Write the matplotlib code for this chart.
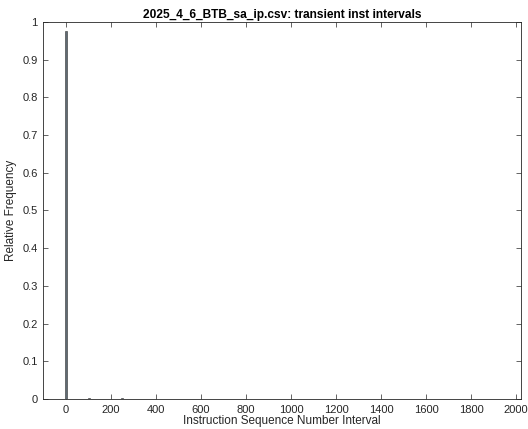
import numpy as np
import matplotlib
matplotlib.use("Agg")
import matplotlib.pyplot as plt

plt.rcParams['font.family'] = ['Liberation Sans', 'DejaVu Sans']

# Histogram of transient instruction intervals (relative frequency per bin)
bin_width = 8
first_edge = -4
last_edge = 1900
peak_centers = [0, 104, 248]
peak_freqs = [0.976, 0.0025, 0.002]

x_ticks = [0, 200, 400, 600, 800, 1000, 1200, 1400, 1600, 1800, 2000]
y_ticks = [0, 0.1, 0.2, 0.3, 0.4, 0.5, 0.6, 0.7, 0.8, 0.9, 1]
y_tick_labels = ['0', '0.1', '0.2', '0.3', '0.4', '0.5', '0.6', '0.7', '0.8', '0.9', '1']

title = '2025_4_6_BTB_sa_ip.csv: transient inst intervals'
xlabel = 'Instruction Sequence Number Interval'
ylabel = 'Relative Frequency'

edges = np.arange(first_edge, last_edge + bin_width, bin_width)
centers = edges[:-1] + bin_width / 2
freqs = np.zeros(len(centers))
for c, f in zip(peak_centers, peak_freqs):
    freqs[np.argmin(np.abs(centers - c))] = f

fig = plt.figure(figsize=(5.28, 4.29), dpi=100)
ax = fig.add_axes([0.082, 0.070, 0.904, 0.879])

ax.bar(centers, freqs, width=bin_width, align='center',
       facecolor='#5f6a74', edgecolor='#333333', linewidth=0.4, zorder=3)

ax.set_xlim(-100, 2020)
ax.set_ylim(0, 1)
ax.set_xticks(x_ticks)
ax.set_yticks(y_ticks)
ax.set_yticklabels(y_tick_labels)

for s in ax.spines.values():
    s.set_color('#262626')
    s.set_linewidth(0.6)
ax.tick_params(direction='in', length=3.5, width=0.5, color='#262626',
               top=True, right=True, labelsize=8, labelcolor='#262626', pad=4)

ax.set_title(title, fontsize=8.6, fontweight='bold', pad=3)
ax.set_xlabel(xlabel, fontsize=8.5, color='#262626', labelpad=0)
ax.set_ylabel(ylabel, fontsize=8.5, color='#262626', labelpad=4)

fig.savefig('out.png', dpi=100)
